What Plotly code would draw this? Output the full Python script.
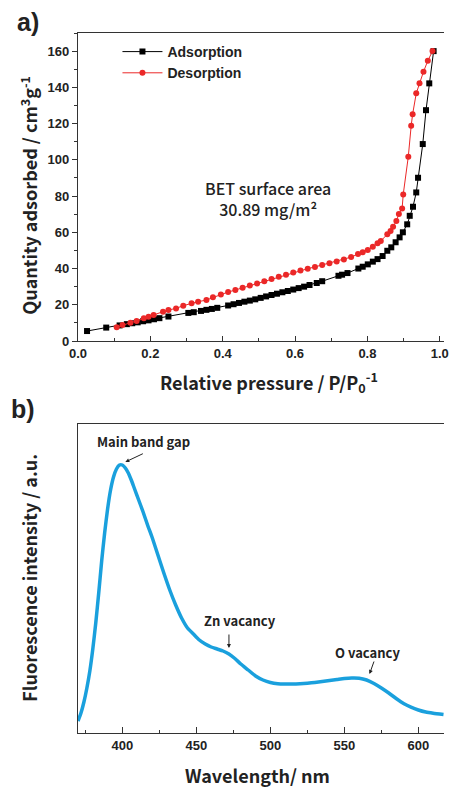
import plotly.graph_objects as go

# ---------------- data: (a) N2 isotherm ----------------
ads_p = [0.025, 0.078, 0.115, 0.135, 0.15, 0.165, 0.18, 0.195, 0.21, 0.225, 0.25,
         0.305, 0.32, 0.34, 0.355, 0.37, 0.385, 0.415, 0.43, 0.445, 0.46, 0.475,
         0.49, 0.505, 0.52, 0.535, 0.55, 0.565, 0.58, 0.595, 0.61, 0.625, 0.64,
         0.66, 0.675, 0.72, 0.73, 0.745, 0.775, 0.787, 0.801, 0.815, 0.828, 0.842,
         0.855, 0.866, 0.878, 0.889, 0.898, 0.910, 0.917, 0.926, 0.935, 0.940,
         0.953, 0.962, 0.971, 0.983]
ads_q = [5.5, 7.4, 8.6, 9.3, 9.8, 10.3, 10.9, 11.4, 12.0, 12.6, 13.5,
         15.5, 15.9, 16.6, 17.2, 17.7, 18.3, 19.6, 20.3, 21.0, 21.7, 22.3,
         23.0, 23.8, 24.6, 25.4, 26.1, 26.9, 27.6, 28.4, 29.2, 30.0, 30.9,
         32.0, 33.0, 36.0, 36.6, 37.5, 40.0, 41.0, 42.3, 43.8, 45.2, 46.9,
         49.8, 51.7, 54.5, 57.2, 60.0, 64.4, 69.1, 74.1, 82.0, 90.1,
         108.7, 127.4, 142.2, 160.0]

des_p = [0.107, 0.123, 0.145, 0.162, 0.182, 0.195, 0.209, 0.235, 0.25, 0.271,
         0.291, 0.314, 0.332, 0.355, 0.373, 0.395, 0.415, 0.435, 0.455, 0.475,
         0.495, 0.515, 0.535, 0.555, 0.575, 0.595, 0.615, 0.635, 0.655, 0.675,
         0.695, 0.715, 0.735, 0.755, 0.774, 0.787, 0.801, 0.815, 0.828, 0.837,
         0.855, 0.864, 0.871, 0.880, 0.887, 0.896, 0.899, 0.913, 0.921, 0.925,
         0.935, 0.944, 0.955, 0.967, 0.980]
des_q = [7.6, 8.8, 10.1, 11.0, 12.5, 13.4, 14.3, 16.2, 17.1, 18.0,
         19.5, 20.8, 21.7, 22.6, 24.1, 25.6, 27.0, 28.2, 29.4, 30.6,
         31.8, 33.0, 34.2, 35.4, 36.6, 37.8, 38.9, 39.9, 40.9, 41.9,
         42.9, 43.9, 45.0, 46.3, 48.0, 49.0, 50.2, 52.0, 53.9, 55.2,
         58.9, 60.7, 63.1, 66.2, 70.1, 73.2, 80.9, 101.7, 118.8, 125.2,
         136.7, 142.2, 148.6, 154.7, 160.0]

# ---------------- data: (b) PL spectrum ----------------
wavelength = [370, 372, 374, 376, 378, 380, 382, 384, 386, 388, 390, 392, 394, 396,
              398, 400, 402, 404, 406, 408, 411, 414, 417, 420, 424, 428, 432, 436,
              440, 444, 448, 452, 456, 460, 464, 468, 472, 476, 480, 485, 490, 495,
              500, 505, 510, 515, 520, 525, 530, 535, 540, 545, 550, 555, 560, 565,
              570, 575, 580, 585, 590, 595, 600, 605, 610, 617]
intensity = [12, 20, 31, 45, 62, 84, 110, 140, 172, 200, 224, 243, 256, 264,
             268, 268, 265, 260, 253, 245, 233, 221, 208, 196, 178, 160, 143, 128,
             115, 105, 99, 93, 89, 86, 84, 82, 79, 74.5, 69, 63, 57, 53,
             50.5, 49.3, 49, 49, 49.3, 49.8, 50.5, 51.5, 52.5, 53.5, 54.5, 55, 54.8, 53,
             49.5, 45, 40, 34.5, 29.5, 25.8, 23, 21, 19.8, 18.5]

legend_names = ["Adsorption", "Desorption"]

# ---------------- geometry helpers ----------------
W, H = 449, 787
ML, MR, MT, MB = 78, 0, 33, 54
PW = W - ML - MR
PH = H - MT - MB


def px(x):
    return (x - ML) / PW


def py(y):
    return (H - MB - y) / PH


TITLE_FONT = "Noto Sans CJK JP"
TICK_FONT = dict(family="Liberation Sans, Arial", size=13, color="#222", weight="bold")
BLUE = "rgb(26,160,221)"

fig = go.Figure()
fig.add_trace(go.Scatter(x=ads_p, y=ads_q, mode="lines+markers", name=legend_names[0],
                         line=dict(color="black", width=1),
                         marker=dict(symbol="square", size=6, color="black"),
                         xaxis="x", yaxis="y"))
fig.add_trace(go.Scatter(x=des_p, y=des_q, mode="lines+markers", name=legend_names[1],
                         line=dict(color="rgb(235,40,40)", width=1),
                         marker=dict(symbol="circle", size=6, color="rgb(235,40,40)"),
                         xaxis="x", yaxis="y"))
fig.add_trace(go.Scatter(x=wavelength, y=intensity, mode="lines", showlegend=False,
                         line=dict(color=BLUE, width=3.5, shape="spline", smoothing=0.6),
                         xaxis="x2", yaxis="y2"))

axis_common = dict(showline=True, linecolor="#333", linewidth=1.3, showgrid=False,
                   zeroline=False, tickcolor="#333", tickfont=TICK_FONT)

fig.update_layout(
    width=W, height=H,
    margin=dict(l=ML, r=MR, t=MT, b=MB, pad=0),
    paper_bgcolor="white", plot_bgcolor="white",
    xaxis=dict(domain=[0, 1], anchor="y", range=[0, (W - ML) / 366.7],
               dtick=0.2, tick0=0, tickformat=".1f", ticks="inside", ticklen=5,
               minor=dict(dtick=0.1, ticks="inside", ticklen=3, tickcolor="#333"),
               ticklabeloverflow="allow", mirror=True, **axis_common),
    yaxis=dict(domain=[py(341), 1], anchor="x", range=[0, 170],
               dtick=20, tick0=0, ticks="outside", ticklen=5,
               minor=dict(dtick=10, ticks="outside", ticklen=3, tickcolor="#333"),
               **axis_common),
    xaxis2=dict(domain=[0, 1], anchor="y2", range=[370, 370 + (W - ML) / 1.5],
                dtick=50, tick0=0, ticks="inside", ticklen=6,
                minor=dict(dtick=25, ticks="inside", ticklen=3, tickcolor="#333"),
                ticklabeloverflow="allow", mirror=True, **axis_common),
    yaxis2=dict(domain=[0, py(424)], anchor="x2", range=[0, 309],
                showticklabels=False, ticks="", **{k: v for k, v in axis_common.items() if k != "tickfont"}),
    legend=dict(x=px(118), y=py(36), xanchor="left", yanchor="top",
                bgcolor="rgba(0,0,0,0)", borderwidth=0,
                font=dict(family="Liberation Sans, Arial", size=14, color="#222", weight="bold"),
                itemwidth=40, tracegroupgap=0),
    showlegend=True,
)

ann = []


def txt(x, y, s, size, family=TITLE_FONT, weight="bold", angle=0, color="#222"):
    ann.append(dict(x=px(x), y=py(y), xref="paper", yref="paper", text=s,
                    showarrow=False, xanchor="center", yanchor="middle",
                    textangle=angle,
                    font=dict(family=family, size=size, color=color, weight=weight)))


txt(27, 22, "a)", 25, family="Liberation Sans, Arial")
txt(22, 409, "b)", 25, family="Liberation Sans, Arial")
txt(272, 382, "Relative pressure / P/P<sub>0</sub><sup>-1</sup>", 18)
txt(28, 195, "Quantity adsorbed / cm<sup>3</sup>g<sup>-1</sup>", 18, angle=-90)
txt(271, 198, "BET surface area<br>30.89 mg/m²", 16, weight=500)
txt(260, 775, "Wavelength/ nm", 18)
txt(28, 578, "Fluorescence intensity / a.u.", 18, angle=-90)
txt(144, 441, "Main band gap", 13)
txt(242, 620, "Zn vacancy", 13)
txt(371, 652, "O vacancy", 13)

# arrows pointing at spectral features
for (xd, yd, axp, ayp) in [(402, 271, 19, -9), (472, 85, 0, -15), (567, 59, 5, -14)]:
    ann.append(dict(x=xd, y=yd, xref="x2", yref="y2", ax=axp, ay=ayp, text="",
                    showarrow=True, arrowhead=2, arrowsize=0.8, arrowwidth=1,
                    arrowcolor="#222"))

fig.update_layout(annotations=ann)
fig.write_html(
    "out.html",
    config={"displayModeBar": False},
    post_script=("document.body.style.margin='0';"
                 "document.body.style.overflow='hidden';"
                 "document.documentElement.style.overflow='hidden';"),
)
